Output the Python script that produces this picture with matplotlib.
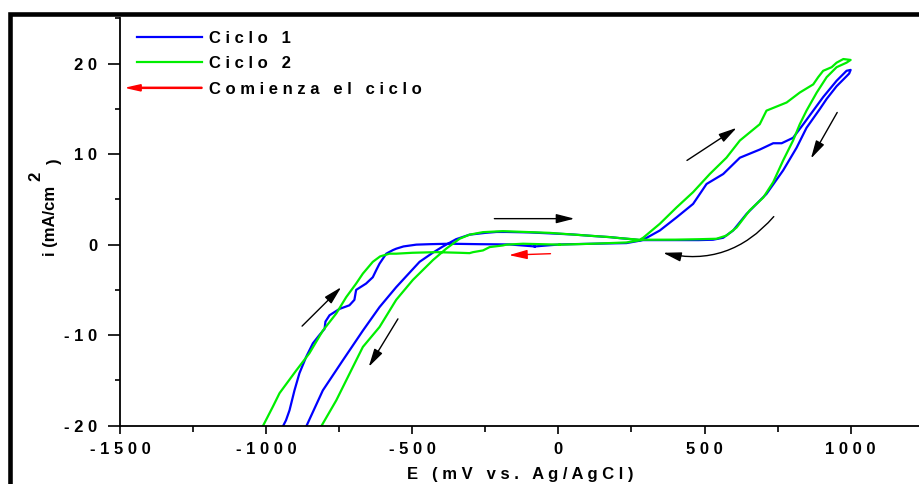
import matplotlib
matplotlib.use("Agg")
import matplotlib.pyplot as plt
from matplotlib.lines import Line2D
from matplotlib.patches import FancyArrow, Rectangle
from matplotlib.legend_handler import HandlerPatch
from matplotlib.ticker import MultipleLocator

# --- data (E in mV vs Ag/AgCl, i in mA/cm2) ---
e_ciclo1 = [-81, -167, -270, -372, -440, -486, -530, -555,
            -566, -589, -612, -623, -635, -658, -692, -698, -715, -749, -783,
            -797, -800, -818, -840, -863, -886, -903, -920, -932, -943, -955,
            -880, -863, -806, -738, -669, -612, -555, -475, -430, -395, -350,
            -304, -250, -212, -178, -100, 0, 50, 120, 176, 210, 250, 278,
            290, 347, 404, 461, 507, 564, 621, 689, 735, 764, 803, 838, 872,
            906, 952, 986, 1000,
            995, 986, 952, 918, 895, 849, 815, 769, 712, 644, 598, 564, 529,
            480, 400, 350, 290, 233, 118, 4, -81]
i_ciclo1 = [-0.2, 0.02, 0.05, 0.1, 0.05, 0.0, -0.2, -0.45,
            -0.6, -1.0, -2.1, -2.8, -3.6, -4.3, -5.0, -6.1, -6.7, -7.1, -7.8,
            -8.5, -9.3, -10.0, -10.9, -12.4, -14.2, -16.1, -18.3, -19.4, -20.1, -22,
            -22, -20.1, -16.1, -12.8, -9.5, -6.9, -4.7, -1.9, -0.9, -0.2, 0.6,
            1.1, 1.3, 1.4, 1.4, 1.35, 1.2, 1.12, 0.95, 0.83, 0.72, 0.6, 0.5,
            0.54, 1.56, 3.0, 4.5, 6.7, 7.8, 9.6, 10.5, 11.2, 11.2, 11.8, 13.3, 14.8,
            16.3, 18.1, 19.2, 19.3,
            18.9, 18.6, 17.5, 16.1, 15.0, 12.9, 10.7, 8.2, 5.6, 3.4, 1.56, 0.76, 0.54,
            0.5, 0.5, 0.5, 0.5, 0.17, 0.1, 0.02, -0.2]

e_ciclo2 = [4, -60, -121, -178, -190, -235, -258, -292, -304, -338, -418, -500,
            -555, -578,
            -610, -635, -669, -692, -726, -760, -806, -852, -897, -954, -977,
            -1012, -1030,
            -830, -812, -760, -703, -669, -612, -555, -498, -429, -384, -338,
            -304, -258, -190, -30, 100, 176, 210, 278,
            290, 347, 404, 461, 518, 575, 621, 655, 689, 712, 735, 781, 826,
            872, 889, 906, 935, 952, 975, 1000,
            986, 952, 918, 884, 849, 826, 803, 769, 735, 701, 655, 610, 575,
            541, 484, 400, 290, 233, 118, 4]
i_ciclo2 = [0.0, 0.05, 0.1, 0.0, -0.09, -0.27, -0.64, -0.83, -0.94, -0.9, -0.83, -0.9,
            -1.0, -1.0,
            -1.3, -1.9, -3.2, -4.3, -5.8, -7.6, -9.5, -12.0, -13.9, -16.4, -17.9,
            -20.1, -22,
            -22, -20.1, -17.2, -13.5, -11.3, -9.1, -6.1, -3.9, -1.7, -0.45, 0.65,
            1.1, 1.38, 1.49, 1.3, 1.0, 0.83, 0.72, 0.54,
            0.76, 2.3, 4.1, 5.8, 7.8, 9.6, 11.5, 12.4, 13.3, 14.8, 15.1, 15.7, 16.8,
            17.7, 18.5, 19.2, 19.6, 20.1, 20.5, 20.4,
            20.1, 19.6, 18.5, 16.8, 14.8, 13.3, 11.5, 9.3, 6.9, 5.2, 3.8, 1.9, 1.0,
            0.65, 0.6, 0.55, 0.54, 0.24, 0.1, 0.0]

series_labels = ["Ciclo 1", "Ciclo 2", "Comienza el ciclo"]
xticks = [-1500, -1000, -500, 0, 500, 1000]
yticks = [-20, -10, 0, 10, 20]

# scan direction arrows: (E start, i start, E end, i end, curvature, colour)
arrows = [
    (-219, 2.87, 55, 2.87, 0, "black"),
    (-877, -9.0, -743, -4.7, 0, "black"),
    (-549, -8.2, -649, -13.5, 0, "black"),
    (440, 9.3, 610, 12.9, 0, "black"),
    (954, 14.6, 864, 9.5, 0, "black"),
    (737, 3.1, 358, -0.9, -0.3, "black"),
    (-27, -1.0, -169, -1.16, 0, "red"),
]

plt.rcParams["font.family"] = ["Liberation Sans", "DejaVu Sans"]
plt.rcParams["font.weight"] = "bold"


def spaced(s):
    return " ".join(s)


W, H = 920, 484
fig = plt.figure(figsize=(W / 100, H / 100), dpi=100)
ax = fig.add_axes([120 / W, (H - 425.7) / H, 800 / W, (425.7 - 18.3) / H])

ax.plot(e_ciclo1, i_ciclo1, color="#0000ff", lw=1.6)
ax.plot(e_ciclo2, i_ciclo2, color="#00ee00", lw=1.6)

for x0, y0, x1, y1, rad, col in arrows:
    ax.annotate("", xy=(x1, y1), xytext=(x0, y0),
                arrowprops=dict(arrowstyle="-|>,head_length=1.1,head_width=0.28",
                                color=col, lw=1.0, mutation_scale=10,
                                shrinkA=0, shrinkB=0,
                                connectionstyle=f"arc3,rad={rad}"))

ax.set_xlim(-1500, (W - 558.7) / 0.292)
ax.set_ylim(-20, 25)
ax.spines["top"].set_visible(False)
ax.spines["right"].set_visible(False)
for s in ("left", "bottom"):
    ax.spines[s].set_linewidth(1.3)

ax.set_xticks(xticks, labels=[spaced(str(v)) for v in xticks])
ax.set_yticks(yticks, labels=[spaced(str(v)) for v in yticks])
ax.xaxis.set_minor_locator(MultipleLocator(250))
ax.yaxis.set_minor_locator(MultipleLocator(5))
ax.tick_params(axis="y", which="major", direction="out", length=8.5, width=1.2,
               pad=8, labelsize=12)
ax.tick_params(axis="y", which="minor", direction="out", length=3.6, width=1.2)
ax.tick_params(axis="x", which="major", direction="out", length=5.8, width=1.2,
               pad=6, labelsize=12)
ax.tick_params(axis="x", which="minor", direction="out", length=4.3, width=1.2)
for lab in ax.get_xticklabels() + ax.get_yticklabels():
    lab.set_fontweight("bold")

ax.set_xlabel(spaced("E (mV vs. Ag/AgCl)"), fontsize=12, fontweight="bold", labelpad=7)

# y label with full-size superscript, as in the original
fig.text(51 / W, 1 - 220.5 / H, "i (mA/cm", rotation=90, ha="center", va="center",
         fontsize=12, fontweight="bold")
fig.text(36 / W, 1 - 176 / H, "2", rotation=90, ha="center", va="center",
         fontsize=12, fontweight="bold")
fig.text(54 / W, 1 - 161 / H, ")", rotation=90, ha="center", va="center",
         fontsize=12, fontweight="bold")


def make_arrow(legend, orig_handle, xdescent, ydescent, width, height, fontsize):
    return FancyArrow(width, height / 2, -width - 7, 0, width=0.8,
                      head_width=4.5, head_length=10, length_includes_head=True,
                      color="red")


handles = [Line2D([], [], color="#0000ff", lw=1.6),
           Line2D([], [], color="#00ee00", lw=1.6),
           FancyArrow(0, 0, 1, 0, color="red")]
ax.legend(handles, [spaced(s) for s in series_labels], loc="upper left",
          bbox_to_anchor=((137 - 120) / 800, (425.7 - 31) / 407.4),
          frameon=False, fontsize=12, handlelength=3.9, handletextpad=0.4,
          labelspacing=0.62, borderpad=0, borderaxespad=0,
          handler_map={FancyArrow: HandlerPatch(patch_func=make_arrow)},
          prop={"weight": "bold", "size": 12})

# thick frame round the figure (cut off at right and bottom in the original)
fig.add_artist(Rectangle((10.5 / W, -0.5), 2, 0.5 + (H - 14) / H,
                         transform=fig.transFigure, fill=False, lw=3.3, ec="black"))

fig.savefig("out.png", dpi=100)
